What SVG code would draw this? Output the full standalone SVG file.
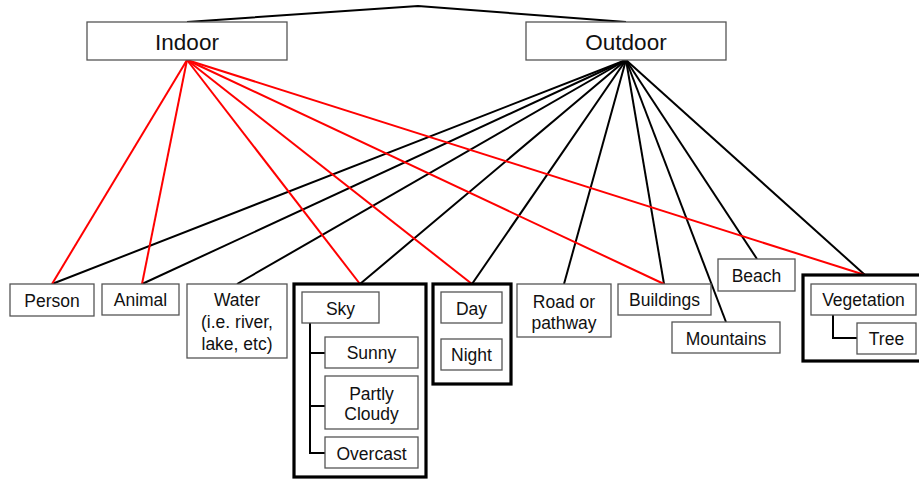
<svg xmlns="http://www.w3.org/2000/svg" width="919" height="479" viewBox="0 0 919 479">
<style>
  .box { fill: #ffffff; stroke: #555555; stroke-width: 1.3; }
  .group { fill: #ffffff; stroke: #000000; stroke-width: 3.2; }
  .lbl { font-family: "Liberation Sans", Arial, sans-serif; font-size: 17.5px; fill: #111111; text-anchor: middle; }
  .big { font-family: "Liberation Sans", Arial, sans-serif; font-size: 22.5px; fill: #111111; text-anchor: middle; }
  .blk { stroke: #000000; stroke-width: 2; fill: none; }
  .red { stroke: #ff0000; stroke-width: 2; fill: none; }
  .tree { stroke: #000000; stroke-width: 2; fill: none; }
</style>
<rect width="919" height="479" fill="#ffffff"/>
<g id="connectors">
  <polyline class="blk" points="187,22 418,6 626,22"/>
  <line class="blk" x1="626" y1="60" x2="52" y2="284"/>
  <line class="blk" x1="626" y1="60" x2="142" y2="284"/>
  <line class="blk" x1="626" y1="60" x2="237" y2="284"/>
  <line class="blk" x1="626" y1="60" x2="360" y2="284"/>
  <line class="blk" x1="626" y1="60" x2="472" y2="284"/>
  <line class="blk" x1="626" y1="60" x2="564" y2="284"/>
  <line class="blk" x1="626" y1="60" x2="664" y2="284"/>
  <line class="blk" x1="626" y1="60" x2="726" y2="322"/>
  <line class="blk" x1="626" y1="60" x2="757" y2="259"/>
  <line class="blk" x1="626" y1="60" x2="865" y2="275"/>
  <line class="red" x1="187" y1="60" x2="52" y2="284"/>
  <line class="red" x1="187" y1="60" x2="142" y2="284"/>
  <line class="red" x1="187" y1="60" x2="360" y2="284"/>
  <line class="red" x1="187" y1="60" x2="472" y2="284"/>
  <line class="red" x1="187" y1="60" x2="664" y2="284"/>
  <line class="red" x1="187" y1="60" x2="865" y2="275"/>
</g>
<g id="indoor">
  <rect class="box" x="87" y="22" width="200" height="38"/>
  <text class="big" x="187" y="50">Indoor</text>
</g>
<g id="outdoor">
  <rect class="box" x="526" y="22" width="200" height="38"/>
  <text class="big" x="626" y="50">Outdoor</text>
</g>
<g id="person">
  <rect class="box" x="10" y="284" width="84" height="32"/>
  <text class="lbl" x="52" y="306.5">Person</text>
</g>
<g id="animal">
  <rect class="box" x="102" y="284" width="77" height="31"/>
  <text class="lbl" x="140.5" y="306">Animal</text>
</g>
<g id="water">
  <rect class="box" x="187" y="284" width="100" height="74"/>
  <text class="lbl" x="237" y="306">Water</text>
  <text class="lbl" x="237" y="328">(i.e. river,</text>
  <text class="lbl" x="237" y="349.5">lake, etc)</text>
</g>
<g id="sky-group">
  <rect class="group" x="294" y="284" width="132" height="193"/>
  <polyline class="tree" points="310,323 310,453 325,453"/>
  <line class="tree" x1="310" y1="353" x2="325" y2="353"/>
  <line class="tree" x1="310" y1="406" x2="325" y2="406"/>
  <g id="sky">
    <rect class="box" x="302" y="292" width="77" height="31"/>
    <text class="lbl" x="340.5" y="315">Sky</text>
  </g>
  <g id="sunny">
    <rect class="box" x="325" y="337" width="93" height="31"/>
    <text class="lbl" x="371.5" y="359">Sunny</text>
  </g>
  <g id="partly-cloudy">
    <rect class="box" x="325" y="376" width="93" height="53"/>
    <text class="lbl" x="371.5" y="399.5">Partly</text>
    <text class="lbl" x="371.5" y="420">Cloudy</text>
  </g>
  <g id="overcast">
    <rect class="box" x="325" y="437" width="93" height="31"/>
    <text class="lbl" x="371.5" y="459.5">Overcast</text>
  </g>
</g>
<g id="daynight-group">
  <rect class="group" x="433" y="284" width="78" height="100"/>
  <g id="day">
    <rect class="box" x="441" y="292" width="61" height="31"/>
    <text class="lbl" x="471.5" y="314.5">Day</text>
  </g>
  <g id="night">
    <rect class="box" x="441" y="339" width="61" height="31"/>
    <text class="lbl" x="471.5" y="361">Night</text>
  </g>
</g>
<g id="road">
  <rect class="box" x="517" y="284" width="94" height="53"/>
  <text class="lbl" x="564" y="307.5">Road or</text>
  <text class="lbl" x="564" y="328.5">pathway</text>
</g>
<g id="buildings">
  <rect class="box" x="618" y="284" width="93" height="31"/>
  <text class="lbl" x="664.5" y="306">Buildings</text>
</g>
<g id="mountains">
  <rect class="box" x="672" y="322" width="108" height="31"/>
  <text class="lbl" x="726" y="344.5">Mountains</text>
</g>
<g id="beach">
  <rect class="box" x="718" y="259" width="77" height="32"/>
  <text class="lbl" x="756.5" y="282">Beach</text>
</g>
<g id="vegetation-group">
  <rect class="group" x="803" y="275" width="122" height="86"/>
  <polyline class="tree" points="833,315 833,338 857,338"/>
  <g id="vegetation">
    <rect class="box" x="811" y="284" width="105" height="31"/>
    <text class="lbl" x="863.5" y="305.5">Vegetation</text>
  </g>
  <g id="tree">
    <rect class="box" x="857" y="323" width="59" height="31"/>
    <text class="lbl" x="886.5" y="345">Tree</text>
  </g>
</g>
</svg>
